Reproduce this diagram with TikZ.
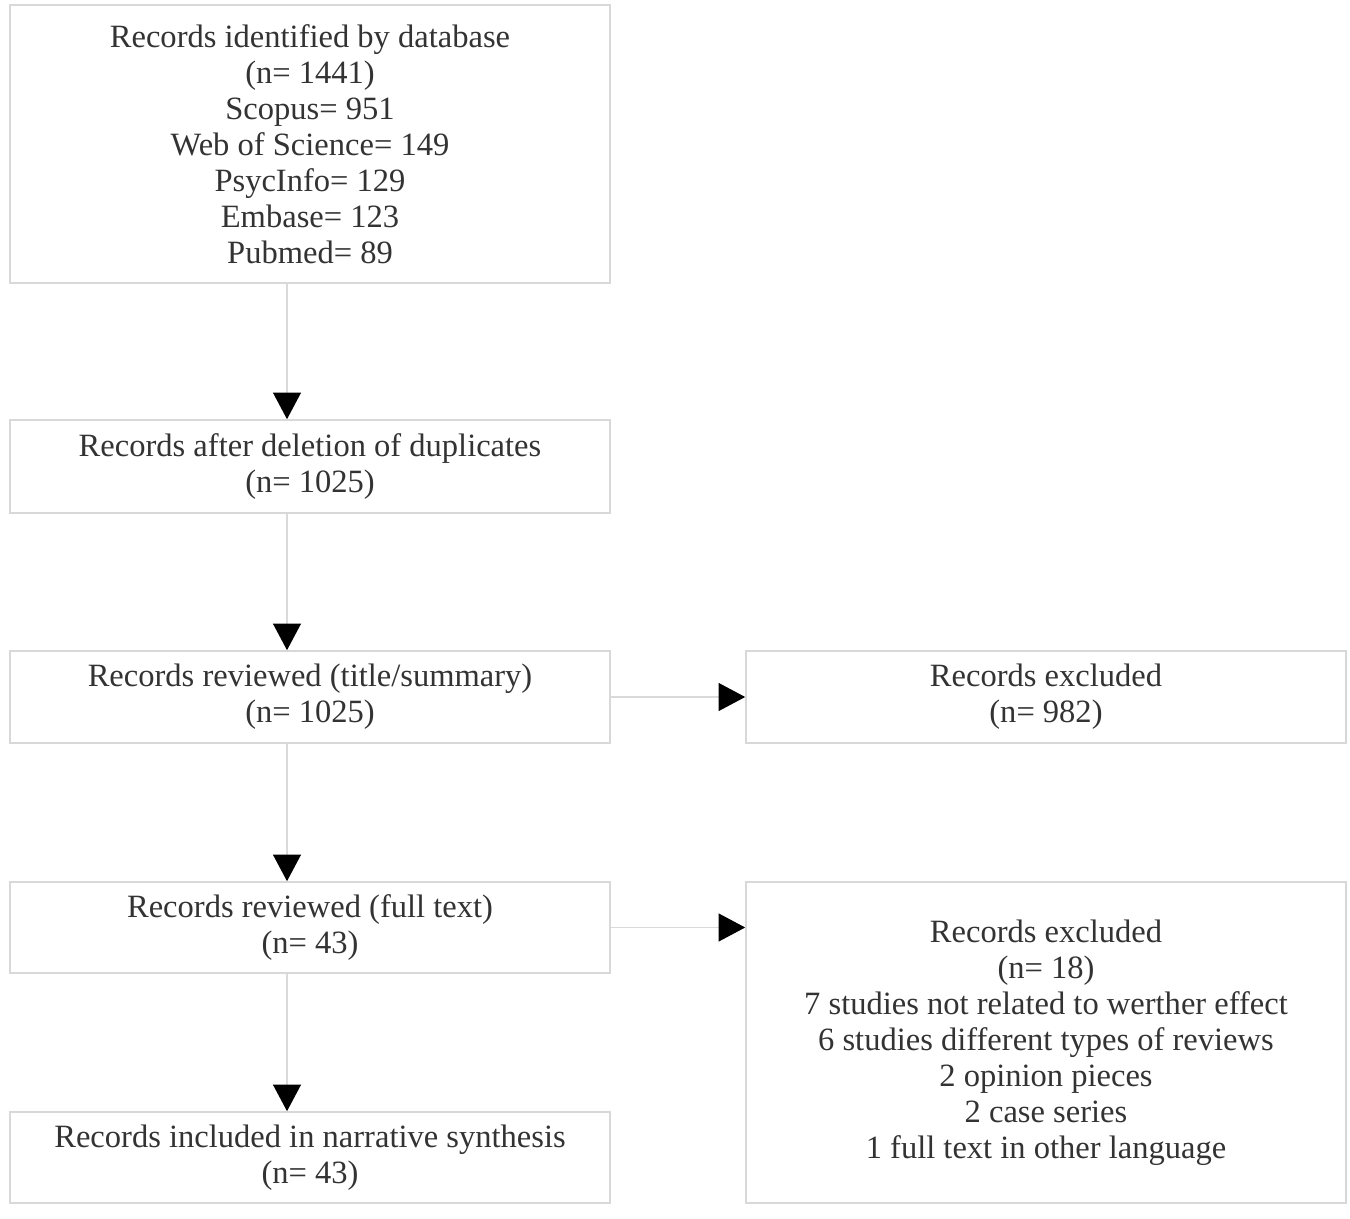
\documentclass[tikz,border=0pt]{standalone}
\usepackage{fontspec}
\setmainfont{Liberation Serif}
\usetikzlibrary{arrows.meta}
\definecolor{boxline}{HTML}{D8D8D8}
\definecolor{conline}{HTML}{DADADA}
\definecolor{txt}{HTML}{333333}
\begin{document}
\begin{tikzpicture}[x=0.75pt,y=-0.75pt,
  box/.style={draw=boxline, line width=1.2pt, rectangle, inner sep=0pt,
    minimum width=450pt, align=center, text=txt,
    font=\fontsize{24.4}{27}\selectfont},
  conn/.style={draw=conline, line width=1pt,
    -{Triangle[length=20pt,width=21pt,black]}}]
\useasboundingbox (0,0) rectangle (1350,1219);
\fill[white] (0,0) rectangle (1350,1219);
\coordinate (col) at (287,0);
\node[box, minimum height=208.5pt] (b1) at (310,144)
  {Records identified by database\\(n= 1441)\\Scopus= 951\\Web of Science= 149\\PsycInfo= 129\\Embase= 123\\Pubmed= 89};
\node[box, minimum height=69.75pt] (b2) at (310,466.5)
  {Records after deletion of duplicates\\(n= 1025)};
\node[box, minimum height=69pt] (b3) at (310,697)
  {Records reviewed (title/summary)\\(n= 1025)};
\node[box, minimum height=69pt] (b4) at (1046,697)
  {Records excluded\\(n= 982)};
\node[box, minimum height=68.25pt] (b5) at (310,927.5)
  {Records reviewed (full text)\\(n= 43)};
\node[box, minimum height=240.75pt] (b6) at (1046,1042.5)
  {Records excluded\\(n= 18)\\7 studies not related to werther effect\\6 studies different types of reviews\\2 opinion pieces\\2 case series\\1 full text in other language};
\node[box, minimum height=68.25pt] (b7) at (310,1157.5)
  {Records included in narrative synthesis\\(n= 43)};
\draw[conn] (b1.south -| col) -- (b2.north -| col);
\draw[conn] (b2.south -| col) -- (b3.north -| col);
\draw[conn] (b3.south -| col) -- (b5.north -| col);
\draw[conn] (b5.south -| col) -- (b7.north -| col);
\draw[conn] (b3.east) -- (b4.west);
\draw[conn] (b5.east) -- (b5.east -| b6.west);
\end{tikzpicture}
\end{document}
